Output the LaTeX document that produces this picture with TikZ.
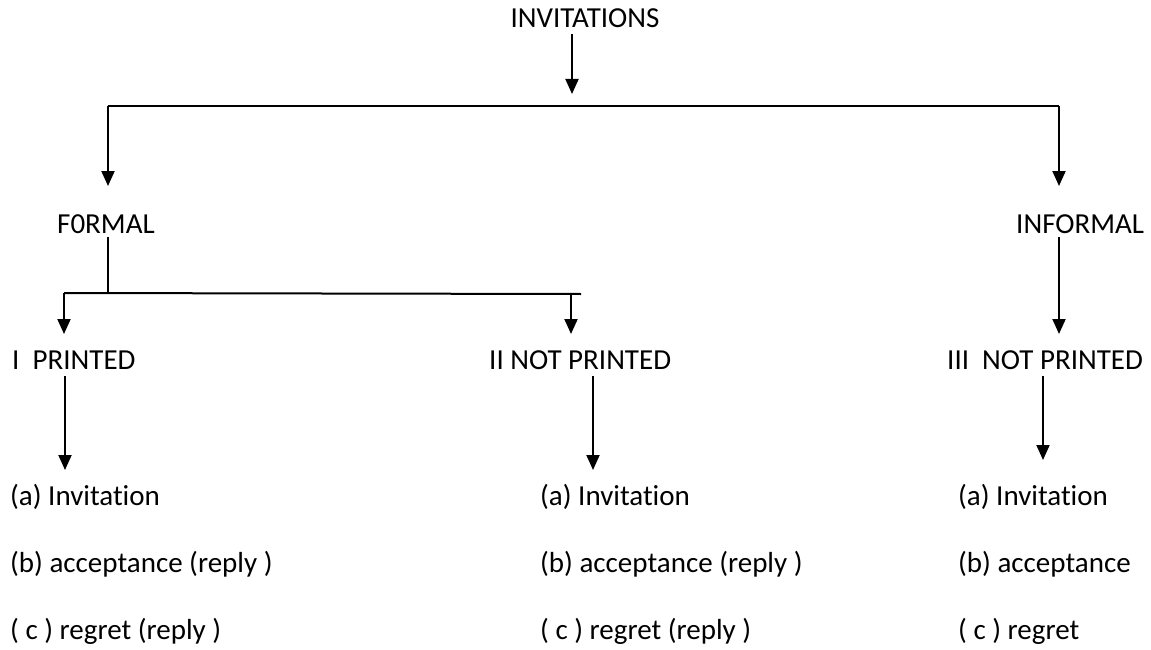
\documentclass[tikz,border=0pt]{standalone}
\usepackage{fontspec}
\setmainfont{Carlito}[Ligatures=NoCommon]
\usetikzlibrary{arrows.meta}
\begin{document}
\begin{tikzpicture}[x=1pt,y=-1pt,
  lbl/.style={anchor=base west,inner sep=0pt,font=\fontsize{29}{33}\selectfont},
  conn/.style={line width=2pt},
  arr/.style={conn,-{Triangle[width=13pt,length=15pt]}}]
\useasboundingbox (0,0) rectangle (1151,650);
% texts
\node[lbl,anchor=base] (inv) at (585,28) {INVITATIONS};
\node[lbl] (formal) at (57,233) {F0RMAL};
\node[lbl] (informal) at (1016,233) {INFORMAL};
\node[lbl] (p1) at (12,369) {I\ \ PRINTED};
\node[lbl] (p2) at (489,369) {II NOT PRINTED};
\node[lbl] (p3) at (947,369) {III\ \ NOT PRINTED};
\node[lbl] (a1) at (10,505) {(a) Invitation};
\node[lbl] (b1) at (10,572) {(b) acceptance (reply )};
\node[lbl] (c1) at (10,639) {( c ) regret (reply )};
\node[lbl] (a2) at (540,505) {(a) Invitation};
\node[lbl] (b2) at (540,572) {(b) acceptance (reply )};
\node[lbl] (c2) at (540,639) {( c ) regret (reply )};
\node[lbl] (a3) at (958,505) {(a) Invitation};
\node[lbl] (b3) at (958,572) {(b) acceptance};
\node[lbl] (c3) at (958,639) {( c ) regret};
% coordinates
\coordinate (s0) at (572,34);
\coordinate (t0) at (572,94);
\coordinate (hl) at (108,106);
\coordinate (hr) at (1059,106);
\coordinate (tl) at (108,186);
\coordinate (tr) at (1059,186);
\coordinate (fs) at (108,237);
\coordinate (fj) at (108,293);
\coordinate (bl) at (64,293);
\coordinate (br) at (571,294);
\coordinate (be) at (581,294);
\coordinate (tp1) at (64,334);
\coordinate (tp2) at (571,334);
\coordinate (is) at (1059,237);
\coordinate (tp3) at (1059,334);
\coordinate (d1s) at (65,376);
\coordinate (d1t) at (65,470);
\coordinate (d2s) at (593,376);
\coordinate (d2t) at (593,470);
\coordinate (d3s) at (1043,376);
\coordinate (d3t) at (1043,460);
% connectors
\draw[arr] (s0) -- (t0);
\draw[conn] (hl) -- (hr);
\draw[arr] (hl) -- (tl);
\draw[arr] (hr) -- (tr);
\draw[conn] (fs) -- (fj);
\draw[conn] (bl) -- (be);
\draw[arr] (bl) -- (tp1);
\draw[arr] (br) -- (tp2);
\draw[arr] (is) -- (tp3);
\draw[arr] (d1s) -- (d1t);
\draw[arr] (d2s) -- (d2t);
\draw[arr] (d3s) -- (d3t);
\end{tikzpicture}
\end{document}
